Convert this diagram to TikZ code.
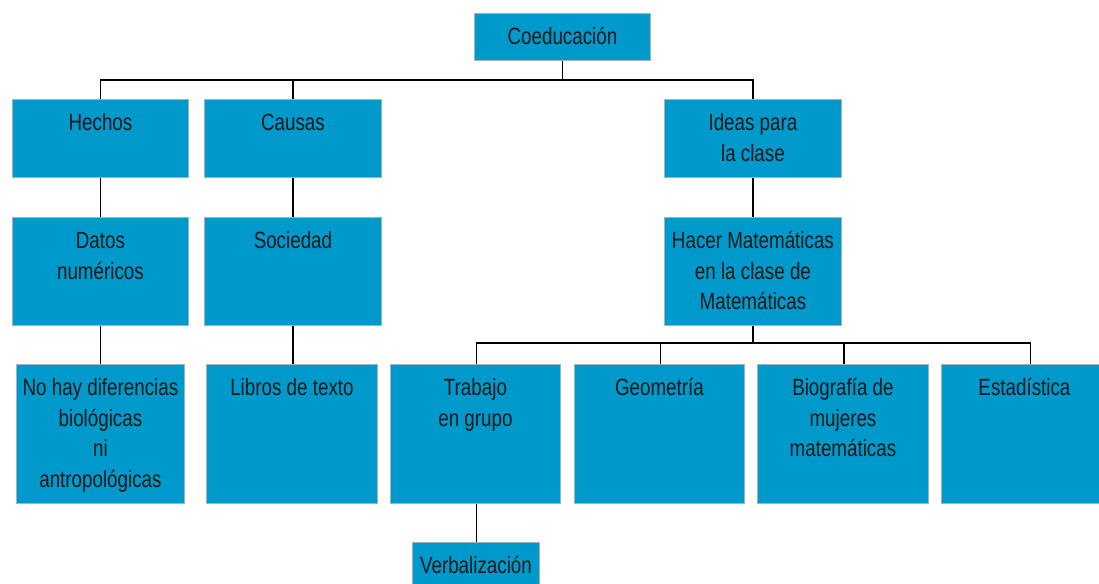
\documentclass[tikz,border=0pt]{standalone}
\usepackage{fontspec}
\setmainfont[FakeStretch=0.8]{Liberation Sans}
\usetikzlibrary{positioning}
\definecolor{boxfill}{RGB}{0,153,204}
\definecolor{boxline}{RGB}{160,180,188}
\tikzset{
  box/.style={draw=boxline,fill=boxfill,line width=0.9pt,anchor=north west,inner sep=0},
  lbl/.style={anchor=north,align=center,inner sep=0,yshift=-10pt,
    font=\fontsize{23.5}{30.5}\selectfont,text=black!90},
  link/.style={draw=black,line width=1.9pt},
}
\begin{document}
\begin{tikzpicture}[x=1pt,y=-1pt]
\useasboundingbox (0,0) rectangle (1099,583);
%boxes
\node[box,minimum width=176pt,minimum height=47pt] (coed) at (474,13) {};
\node[box,minimum width=176pt,minimum height=78pt] (hechos) at (12,99) {};
\node[box,minimum width=177pt,minimum height=78pt] (causas) at (204,99) {};
\node[box,minimum width=177pt,minimum height=78pt] (ideas) at (664,99) {};
\node[box,minimum width=176pt,minimum height=108pt] (datos) at (12,217) {};
\node[box,minimum width=177pt,minimum height=108pt] (soc) at (204,217) {};
\node[box,minimum width=177pt,minimum height=108pt] (hacer) at (664,217) {};
\node[box,minimum width=168pt,minimum height=139pt] (nohay) at (16,364) {};
\node[box,minimum width=171pt,minimum height=139pt] (libros) at (206,364) {};
\node[box,minimum width=170pt,minimum height=139pt] (trabajo) at (390,364) {};
\node[box,minimum width=170pt,minimum height=139pt] (geom) at (574,364) {};
\node[box,minimum width=171pt,minimum height=139pt] (bio) at (757,364) {};
\node[box,minimum width=182pt,minimum height=139pt] (estad) at (941,364) {};
\node[box,minimum width=127pt,minimum height=50pt] (verb) at (412,542) {};
%texts
\node[lbl] (coed-t) at (coed.north) {\strut Coeducación};
\node[lbl] (hechos-t) at (hechos.north) {\strut Hechos};
\node[lbl] (causas-t) at (causas.north) {\strut Causas};
\node[lbl] (ideas-t) at (ideas.north) {\strut Ideas para\\la clase};
\node[lbl] (datos-t) at (datos.north) {\strut Datos\\numéricos};
\node[lbl] (soc-t) at (soc.north) {\strut Sociedad};
\node[lbl] (hacer-t) at (hacer.north) {\strut Hacer Matemáticas\\en la clase de\\Matemáticas};
\node[lbl] (nohay-t) at (nohay.north) {\strut No hay diferencias\\biológicas\\ni\\antropológicas};
\node[lbl] (libros-t) at (libros.north) {\strut Libros de texto};
\node[lbl] (trabajo-t) at (trabajo.north) {\strut Trabajo\\en grupo};
\node[lbl] (geom-t) at (geom.north) {\strut Geometría};
\node[lbl] (bio-t) at (bio.north) {\strut Biografía de\\mujeres\\matemáticas};
\node[lbl] (estad-t) at ([xshift=-8pt]estad.north) {\strut Estadística};
\node[lbl] (verb-t) at (verb.north) {\strut Verbalización};
%connectors
\coordinate (bus1) at (coed.south |- 0,80);
\coordinate (bus2) at (hacer.south |- 0,343);
\draw[link] (coed.south) -- (bus1);
\draw[link] (hechos.north) |- (bus1) -| (ideas.north);
\draw[link] (causas.north) -- (causas.north |- bus1);
\draw[link] (hechos) -- (datos);
\draw[link] (causas) -- (soc);
\draw[link] (ideas) -- (hacer);
\draw[link] (datos.south) -- (datos.south |- nohay.north);
\draw[link] (soc.south) -- (soc.south |- libros.north);
\draw[link] (hacer.south) -- (bus2);
\draw[link] ([xshift=1pt]trabajo.north) |- (bus2);
\draw[link] ([xshift=1pt]geom.north) |- (bus2);
\draw[link] ([xshift=1pt]bio.north) |- (bus2);
\draw[link] ([xshift=-2pt]estad.north) |- (bus2);
\draw[link] ([xshift=1pt]trabajo.south) -- ([xshift=1pt]trabajo.south |- verb.north);
\end{tikzpicture}
\end{document}
